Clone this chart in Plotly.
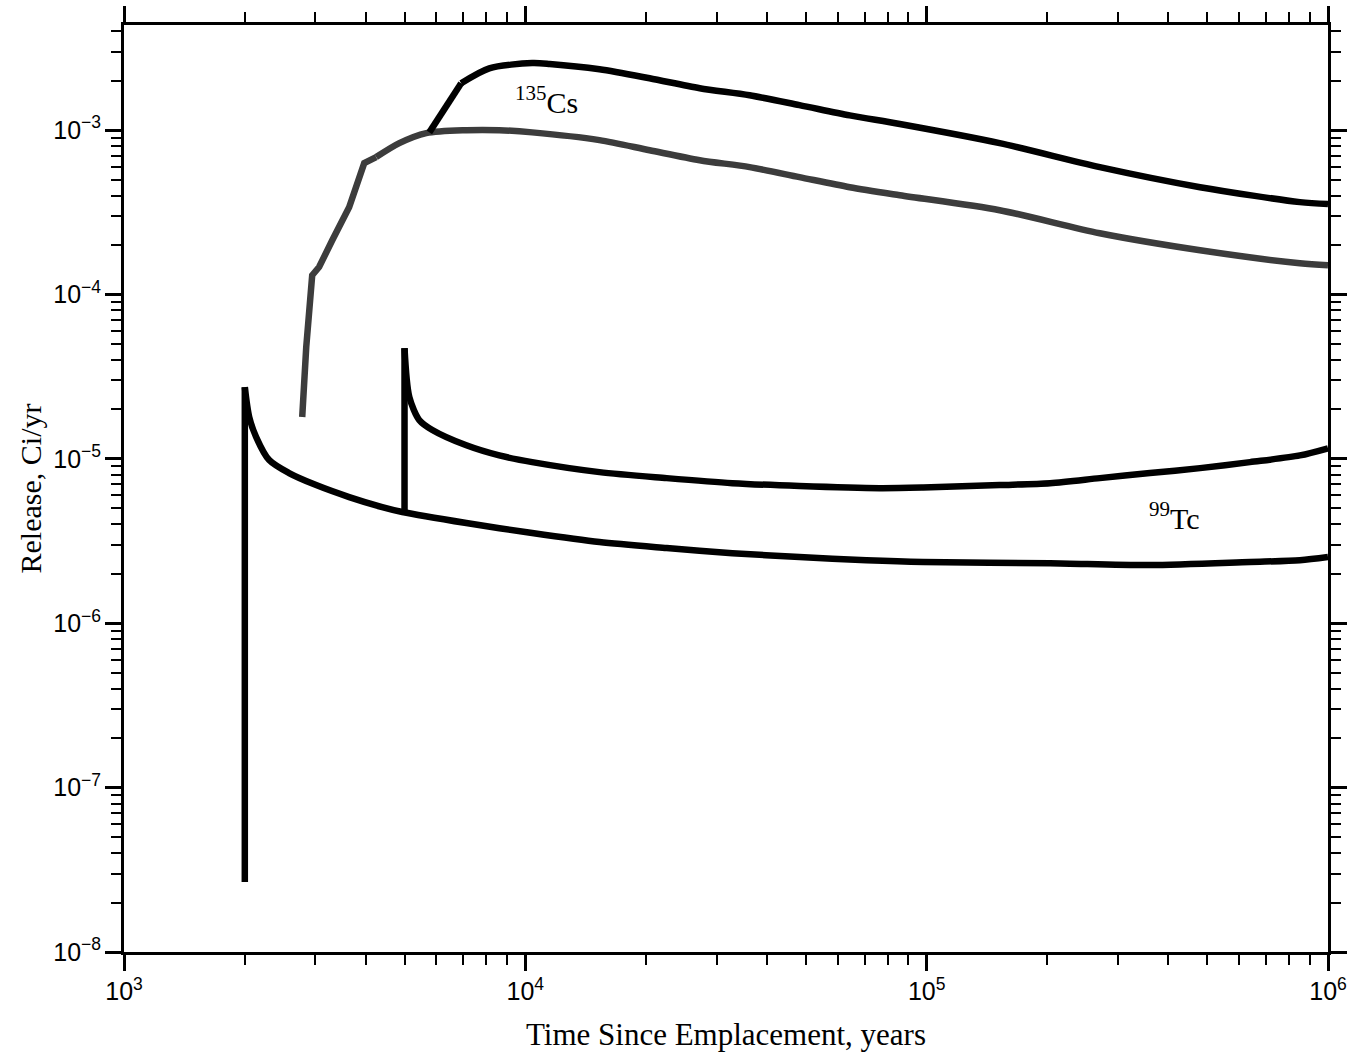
import math
import plotly.graph_objects as go

# 135Cs upper curve (solid)
cs_hi_t = [5765, 6280, 6920, 8130, 10400, 11500, 15300, 20400, 27200, 36200, 48200, 64300, 85700, 152000, 270000, 480000, 851000, 1000000]
cs_hi_r = [9.7e-4, 1.36e-3, 1.93e-3, 2.38e-3, 2.56e-3, 2.53e-3, 2.35e-3, 2.07e-3, 1.80e-3, 1.63e-3, 1.42e-3, 1.23e-3, 1.09e-3, 8.34e-4, 5.96e-4, 4.5e-4, 3.65e-4, 3.55e-4]

# 135Cs lower curve (stippled grey)
cs_lo_t = [2780, 2845, 2944, 3063, 3303, 3639, 3968, 4249, 4853, 5662, 7128, 8610, 10400, 15300, 20400, 27200, 36200, 48200, 64300, 85700, 152000, 270000, 480000, 851000, 1000000]
cs_lo_r = [1.8e-5, 4.79e-5, 1.31e-4, 1.47e-4, 2.14e-4, 3.40e-4, 6.30e-4, 6.86e-4, 8.34e-4, 9.6e-4, 1.0e-3, 1.0e-3, 9.7e-4, 8.7e-4, 7.55e-4, 6.57e-4, 5.96e-4, 5.18e-4, 4.5e-4, 4.02e-4, 3.26e-4, 2.36e-4, 1.86e-4, 1.55e-4, 1.51e-4]

# 99Tc lower curve
tc_lo_t = [2000, 2000, 2051, 2134, 2300, 2578, 3011, 3640, 4399, 4937, 7128, 10400, 15300, 22500, 32800, 48200, 70800, 98000, 203000, 360000, 639000, 851000, 1000000]
tc_lo_r = [2.67e-8, 2.73e-5, 1.80e-5, 1.36e-5, 9.84e-6, 8.2e-6, 6.93e-6, 5.86e-6, 5.09e-6, 4.75e-6, 4.07e-6, 3.54e-6, 3.12e-6, 2.87e-6, 2.67e-6, 2.53e-6, 2.42e-6, 2.36e-6, 2.32e-6, 2.26e-6, 2.36e-6, 2.42e-6, 2.53e-6]

# 99Tc upper curve
tc_hi_t = [5000, 5000, 5140, 5445, 5865, 7128, 8610, 10400, 15300, 22500, 32800, 48200, 76400, 98000, 152000, 203000, 270000, 360000, 480000, 639000, 851000, 1000000]
tc_hi_r = [4.75e-6, 4.72e-5, 2.38e-5, 1.72e-5, 1.50e-5, 1.21e-5, 1.05e-5, 9.56e-6, 8.31e-6, 7.64e-6, 7.12e-6, 6.84e-6, 6.64e-6, 6.7e-6, 6.93e-6, 7.12e-6, 7.64e-6, 8.2e-6, 8.79e-6, 9.56e-6, 1.05e-5, 1.16e-5]

labels = ["<sup>135</sup>Cs", "<sup>99</sup>Tc"]
label_t = [1.13e4, 4.15e5]
label_r = [1.52e-3, 4.49e-6]

fig = go.Figure()
LW = 6.5
# Cs lower: steep rise part (linear, kinked) and smooth part
fig.add_trace(go.Scatter(x=cs_lo_t[:8], y=cs_lo_r[:8], mode="lines",
                         line=dict(color="#3c3c3c", width=LW)))
fig.add_trace(go.Scatter(x=cs_lo_t[7:], y=cs_lo_r[7:], mode="lines",
                         line=dict(color="#3c3c3c", width=LW, shape="spline", smoothing=0.8)))
# Cs upper
fig.add_trace(go.Scatter(x=cs_hi_t[:3], y=cs_hi_r[:3], mode="lines",
                         line=dict(color="black", width=LW)))
fig.add_trace(go.Scatter(x=cs_hi_t[2:], y=cs_hi_r[2:], mode="lines",
                         line=dict(color="black", width=LW, shape="spline", smoothing=0.8)))
# Tc lower: vertical jump then smooth decay
fig.add_trace(go.Scatter(x=tc_lo_t[:2], y=tc_lo_r[:2], mode="lines",
                         line=dict(color="black", width=LW)))
fig.add_trace(go.Scatter(x=tc_lo_t[1:], y=tc_lo_r[1:], mode="lines",
                         line=dict(color="black", width=LW, shape="spline", smoothing=0.8)))
# Tc upper
fig.add_trace(go.Scatter(x=tc_hi_t[:2], y=tc_hi_r[:2], mode="lines",
                         line=dict(color="black", width=LW)))
fig.add_trace(go.Scatter(x=tc_hi_t[1:], y=tc_hi_r[1:], mode="lines",
                         line=dict(color="black", width=LW, shape="spline", smoothing=0.8)))

for txt, t, r in zip(labels, label_t, label_r):
    fig.add_annotation(x=math.log10(t), y=math.log10(r), text=txt, showarrow=False,
                       font=dict(family="Liberation Serif", size=30, color="black"))

axis_common = dict(
    type="log", showgrid=False, zeroline=False, automargin=False,
    showline=True, linecolor="black", linewidth=3, mirror="allticks",
    ticks="outside", ticklen=16, tickwidth=2.5, tickcolor="black",
    dtick=1, exponentformat="power", showexponent="all",
    tickfont=dict(family="Liberation Sans", size=20, color="black"),
    minor=dict(ticks="outside", ticklen=10, tickwidth=2, tickcolor="black", dtick="D1", showgrid=False),
)

fig.update_layout(
    width=1351, height=1060,
    margin=dict(l=124, r=23, t=25, b=108, autoexpand=False),
    paper_bgcolor="white", plot_bgcolor="white",
    showlegend=False,
    xaxis=dict(axis_common, range=[3, 6],
               title=dict(text="Time Since Emplacement, years", standoff=20,
                          font=dict(family="Liberation Serif", size=31, color="black"))),
    yaxis=dict(axis_common, range=[-8, -2.36],
               title=dict(text="Release, Ci/yr", standoff=3,
                          font=dict(family="Liberation Serif", size=30, color="black"))),
)

fig.write_html("out.html")
